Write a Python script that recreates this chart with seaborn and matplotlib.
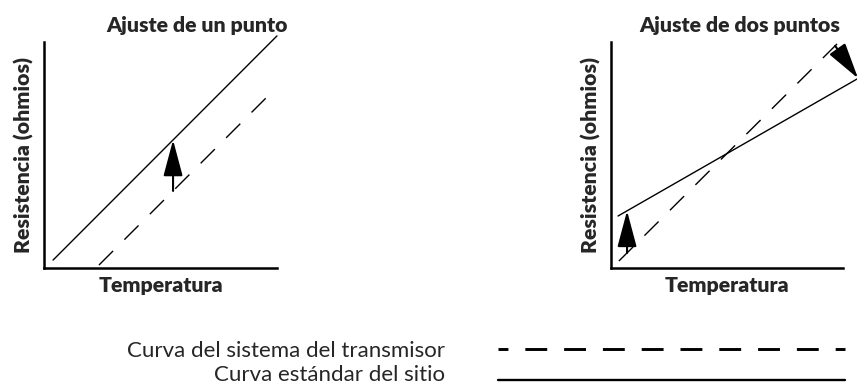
import numpy as np
import pandas as pd
import seaborn as sns
import matplotlib.pyplot as plt
from matplotlib.lines import Line2D

sns.set_style('white')
plt.rcParams['font.family'] = ['Lato', 'DejaVu Sans']

curva_sistema = 'Curva del sistema del transmisor'
curva_sitio = 'Curva estándar del sitio'

# ajuste de un punto (temperatura, resistencia en unidades arbitrarias)
t_sitio_1 = [0.39, 10.0]
r_sitio_1 = [0.35, 10.27]
t_sistema_1 = [2.36, 10.0]
r_sistema_1 = [0.13, 8.01]
flechas_1 = [(5.54, 5.54)]

# ajuste de dos puntos
t_sitio_2 = [0.30, 10.6]
r_sitio_2 = [2.30, 8.36]
t_sistema_2 = [0.34, 10.09]
r_sistema_2 = [0.31, 10.27]
flechas_2 = [(0.69, 0.69), (9.66, 10.65)]

PESO = 'heavy'
TAM = 15.3


def recta(t, r, x):
    return np.polyval(np.polyfit(t, r, 1), x)


def panel(ax, t_sitio, r_sitio, t_sis, r_sis, flechas, titulo, x_titulo):
    df = pd.DataFrame({
        'Temperatura': t_sitio + t_sis,
        'Resistencia': r_sitio + r_sis,
        'Curva': [curva_sitio] * len(t_sitio) + [curva_sistema] * len(t_sis),
    })
    sns.lineplot(data=df, x='Temperatura', y='Resistencia', style='Curva',
                 style_order=[curva_sistema, curva_sitio],
                 dashes={curva_sistema: (14.4, 11.5), curva_sitio: ''},
                 color='black', lw=1, estimator=None, sort=False,
                 legend=False, ax=ax)
    for ln in ax.lines:
        ln.set_clip_on(False)

    # flechas: de la curva del transmisor a la curva del sitio
    for t0, t1 in flechas:
        ax.annotate('', xy=(t1, recta(t_sitio, r_sitio, t1)),
                    xytext=(t0, recta(t_sis, r_sis, t0)),
                    arrowprops=dict(arrowstyle='-|>,head_length=1.5,head_width=0.4',
                                    mutation_scale=15, lw=1.5, color='black',
                                    shrinkA=0, shrinkB=0),
                    annotation_clip=False)

    ax.set_xlim(0, 10)
    ax.set_ylim(0, 10)
    ax.set_xticks([])
    ax.set_yticks([])
    sns.despine(ax=ax)
    for s in ['left', 'bottom']:
        ax.spines[s].set_linewidth(1.8)
        ax.spines[s].set_color('black')
    ax.set_xlabel('Temperatura', fontweight=PESO, fontsize=TAM, labelpad=6)
    ax.set_ylabel('Resistencia (ohmios)', fontweight=PESO, fontsize=TAM, labelpad=7)
    ax.set_title(titulo, fontweight=PESO, fontsize=TAM, x=x_titulo, pad=7)


fig = plt.figure(figsize=(8.57, 3.85), dpi=100)
ax1 = fig.add_axes([0.0513, 0.3039, 0.2719, 0.5870])
ax2 = fig.add_axes([0.7130, 0.3039, 0.2707, 0.5870])

panel(ax1, t_sitio_1, r_sitio_1, t_sistema_1, r_sistema_1, flechas_1,
      'Ajuste de un punto', 0.657)
panel(ax2, t_sitio_2, r_sitio_2, t_sistema_2, r_sistema_2, flechas_2,
      'Ajuste de dos puntos', 0.556)

handles = [
    Line2D([], [], color='black', lw=2.1, linestyle=(4.1, (7.5, 5.8))),
    Line2D([], [], color='black', lw=1.7),
]
leg = fig.legend(handles, [curva_sistema, curva_sitio], loc='upper right',
                 bbox_to_anchor=(845 / 857, 1 - 341 / 385), frameon=False,
                 markerfirst=False, handlelength=15.6, handletextpad=2.4,
                 labelspacing=0.19, borderpad=0, borderaxespad=0, fontsize=16)
# la línea continua va algo más baja que su texto
ln = leg.get_lines()[1]
ln.set_ydata(np.asarray(ln.get_ydata()) - 5)

fig.savefig('out.png', dpi=100)
